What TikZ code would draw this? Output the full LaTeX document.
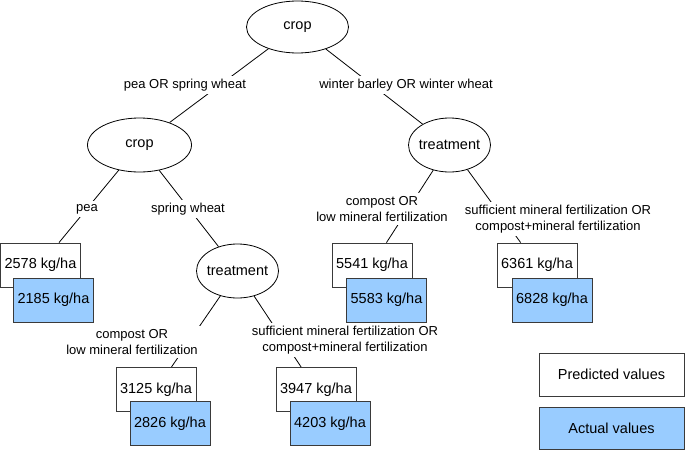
\documentclass[tikz,border=0pt]{standalone}
\usepackage{fontspec}
\setmainfont{Liberation Sans}
\usetikzlibrary{shapes.geometric,backgrounds}
\definecolor{actblue}{HTML}{99CCFF}
\definecolor{boxgray}{HTML}{3A3A3A}
\begin{document}
\begin{tikzpicture}[x=1pt,y=-1pt,
  split/.style={ellipse,draw=black,line width=0.8pt,fill=white,inner sep=0pt,
    font=\fontsize{14.5}{17}\selectfont},
  lbl/.style={fill=white,font=\fontsize{13}{16}\selectfont,align=center,inner sep=3pt},
  pred/.style={rectangle,draw=boxgray,fill=white,line width=0.8pt,minimum width=80pt,
    minimum height=44pt,inner sep=0pt,font=\fontsize{14.5}{17}\selectfont},
  act/.style={pred,fill=actblue},
  conn/.style={line width=0.8pt,draw=black}]
\useasboundingbox (0,0) rectangle (685,450);
% split nodes
\node[split,minimum width=102pt,minimum height=52pt] (crop1) at (297.5,27) {\makebox[0pt]{crop}};
\node[split,minimum width=104pt,minimum height=54pt] (crop2) at (139.5,145) {\makebox[0pt]{crop}};
\node[split,minimum width=82pt,minimum height=54pt] (treat1) at (237.5,271) {\makebox[0pt]{treatment}};
\node[split,minimum width=82pt,minimum height=54pt] (treat2) at (449.5,145) {\makebox[0pt]{treatment}};
% leaves
\node[pred] (p1) at (40.5,265) {2578 kg/ha};
\node[act]  (a1) at (53.5,300) {2185 kg/ha};
\node[pred] (p2) at (156,389.5) {3125 kg/ha};
\node[act]  (a2) at (170,423.5) {2826 kg/ha};
\node[pred] (p3) at (316,389.5) {3947 kg/ha};
\node[act]  (a3) at (330,423.5) {4203 kg/ha};
\node[pred] (p4) at (372,265) {5541 kg/ha};
\node[act]  (a4) at (386.5,300) {5583 kg/ha};
\node[pred] (p5) at (537,265) {6361 kg/ha};
\node[act]  (a5) at (552,300) {6828 kg/ha};
% edge labels
\node[lbl] (l1) at (185,85) {pea OR spring wheat};
\node[lbl] (l2) at (406,85) {winter barley OR winter wheat};
\node[lbl] (l3) at (87,209) {pea};
\node[lbl] (l4) at (188,209) {spring wheat};
\node[lbl] (l5) at (132,342) {compost OR\\low mineral fertilization};
\node[lbl] (l6) at (345,340) {sufficient mineral fertilization OR\\compost+mineral fertilization};
\node[lbl] (l7) at (382,209) {compost OR\\low mineral fertilization};
\node[lbl] (l8) at (558,219) {sufficient mineral fertilization OR\\compost+mineral fertilization};
% legend
\node[pred,minimum width=145pt,minimum height=43pt] (leg1) at (611.5,374.5) {Predicted values};
\node[act,minimum width=145pt,minimum height=42pt] (leg2) at (611.5,428) {Actual values};
% connectors
\begin{pgfonlayer}{background}
\draw[conn] (crop1) -- (crop2);
\draw[conn] (crop1) -- (treat2);
\draw[conn] (crop2) -- (p1);
\draw[conn] (crop2) -- (treat1);
\draw[conn] (treat1) -- (p2);
\draw[conn] (treat1) -- (p3);
\draw[conn] (treat2) -- (p4);
\draw[conn] (treat2) -- (p5);
\end{pgfonlayer}
\end{tikzpicture}
\end{document}
